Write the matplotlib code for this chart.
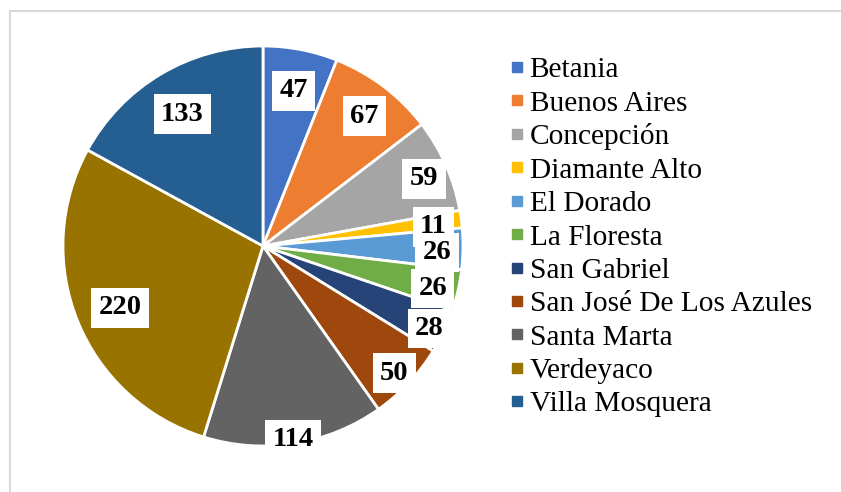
import matplotlib
matplotlib.use("Agg")
import matplotlib.pyplot as plt
import matplotlib.patches as mpatches
from matplotlib.lines import Line2D
import numpy as np

categories = ["Betania", "Buenos Aires", "Concepción", "Diamante Alto", "El Dorado",
              "La Floresta", "San Gabriel", "San José De Los Azules", "Santa Marta",
              "Verdeyaco", "Villa Mosquera"]
values = [47, 67, 59, 11, 26, 26, 28, 50, 114, 220, 133]
colors = ["#4472C4", "#ED7D31", "#A5A5A5", "#FFC000", "#5B9BD5", "#70AD47",
          "#264478", "#9E480E", "#636363", "#997300", "#255E91"]
label_r = [0.81, 0.84, 0.88, 0.86, 0.87, 0.87, 0.92, 0.90, 0.96, 0.77, 0.79]

W, H = 841, 492
fig = plt.figure(figsize=(W / 100, H / 100), dpi=100)
fig.patch.set_facecolor("white")

cx, cy, R = 263, 246, 200
ax = fig.add_axes([(cx - R) / W, (H - cy - R) / H, 2 * R / W, 2 * R / H])
wedges, _ = ax.pie(values, colors=colors, startangle=90, counterclock=False,
                   radius=1.0, wedgeprops=dict(edgecolor="white", linewidth=2))
ax.set_xlim(-1, 1)
ax.set_ylim(-1, 1)
ax.set_aspect("equal")
ax.axis("off")

for w, r, v in zip(wedges, label_r, values):
    ang = np.deg2rad((w.theta1 + w.theta2) / 2)
    ax.annotate(str(v), (r * np.cos(ang), r * np.sin(ang)),
                xytext=(0, -4), textcoords="offset pixels",
                ha="center", va="center",
                fontsize=20.5, fontweight="bold", family="Liberation Serif",
                bbox=dict(boxstyle="square,pad=0.26", facecolor="white", edgecolor="none"),
                zorder=5)

handles = [Line2D([], [], marker="s", linestyle="none", markersize=7,
                  markerfacecolor=c, markeredgecolor=c) for c in colors]
fig.legend(handles, categories, loc="center left",
           bbox_to_anchor=(509 / W, (H - 237) / H), frameon=False,
           prop=dict(family="Liberation Serif", size=21.2),
           handlelength=0.55, handletextpad=0.15, borderpad=0, borderaxespad=0,
           labelspacing=0.23)

border = mpatches.Rectangle((10 / W, -0.1), 1.2, (H - 11) / H + 0.1,
                            transform=fig.transFigure, fill=False,
                            edgecolor="#D9D9D9", linewidth=1.5)
fig.patches.append(border)

fig.savefig("out.png", dpi=100)
